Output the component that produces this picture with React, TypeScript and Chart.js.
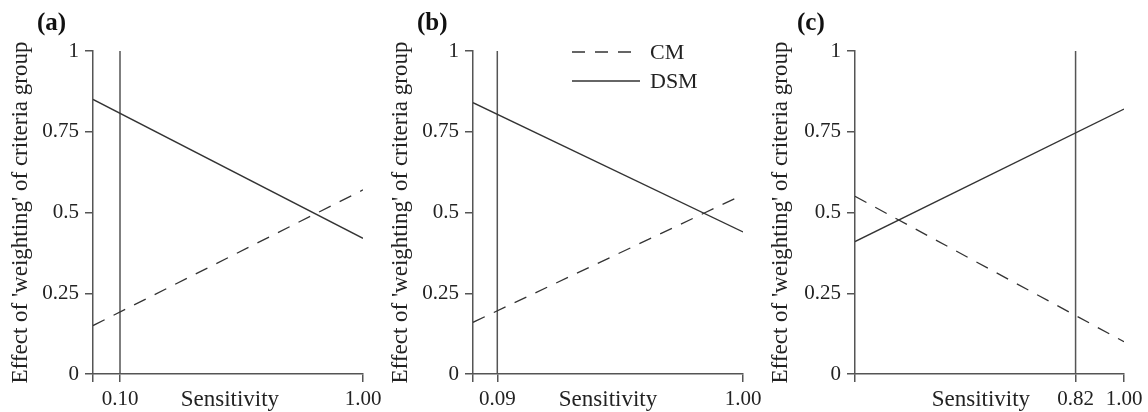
import React, { useEffect, useRef } from "react";
import { Chart, registerables } from "chart.js";

Chart.register(...registerables);

// ---- data ----
const lineX = [0, 1];
const yTickValues = [0, 0.25, 0.5, 0.75, 1];
const yTickLabels = ["0", "0.25", "0.5", "0.75", "1"];

const cmA = [0.15, 0.57];
const dsmA = [0.85, 0.42];
const thresholdA = 0.1;
const xTicksA = [0, 0.1, 1];
const xTickLabelsA = ["", "0.10", "1.00"];

const cmB = [0.16, 0.555];
const dsmB = [0.84, 0.44];
const thresholdB = 0.09;
const xTicksB = [0, 0.09, 1];
const xTickLabelsB = ["", "0.09", "1.00"];

const cmC = [0.55, 0.1];
const dsmC = [0.41, 0.82];
const thresholdC = 0.82;
const xTicksC = [0, 0.82, 1];
const xTickLabelsC = ["", "0.82", "1.00"];

const seriesNames = ["CM", "DSM"];
const panelTitles = ["(a)", "(b)", "(c)"];
const yTitle = "Effect of 'weighting' of criteria group";
const xTitle = "Sensitivity";

const SERIF = "'Liberation Serif', 'Times New Roman', serif";
const AXIS = "#555";
const INK = "#333";

type Panel = {
  left: number;
  width: number;
  cm: number[];
  dsm: number[];
  threshold: number;
  xTicks: number[];
  xTickLabels: string[];
  title: string;
  legend: boolean;
  xTitleAt: number;
  yAxisWidth: number;
  rightPad: number;
};

const panels: Panel[] = [
  { left: 0, width: 400, cm: cmA, dsm: dsmA, threshold: thresholdA, xTicks: xTicksA, xTickLabels: xTickLabelsA, title: panelTitles[0], legend: false, xTitleAt: 0.507, yAxisWidth: 93, rightPad: 37 },
  { left: 380, width: 400, cm: cmB, dsm: dsmB, threshold: thresholdB, xTicks: xTicksB, xTickLabels: xTickLabelsB, title: panelTitles[1], legend: true, xTitleAt: 0.5, yAxisWidth: 93, rightPad: 37 },
  { left: 760, width: 388, cm: cmC, dsm: dsmC, threshold: thresholdC, xTicks: xTicksC, xTickLabels: xTickLabelsC, title: panelTitles[2], legend: false, xTitleAt: 0.468, yAxisWidth: 95, rightPad: 24 },
];

function PanelChart({ p }: { p: Panel }) {
  const ref = useRef<HTMLCanvasElement | null>(null);
  useEffect(() => {
    if (!ref.current) return;
    const decor = {
      id: "decor",
      afterDraw(chart: any) {
        const ctx = chart.ctx;
        const xs = chart.scales.x;
        ctx.save();
        // panel title
        ctx.fillStyle = "#111";
        ctx.font = `bold 25px ${SERIF}`;
        ctx.textAlign = "left";
        ctx.textBaseline = "middle";
        ctx.fillText(p.title, 37, 24);
        // x title
        ctx.font = `23px ${SERIF}`;
        ctx.fillStyle = "#222";
        ctx.textAlign = "center";
        ctx.fillText(xTitle, xs.getPixelForValue(p.xTitleAt), xs.top + 8 + 5 + 12.6);
        // legend
        if (p.legend) {
          const ds = chart.data.datasets;
          const ys = [52, 81];
          [0, 1].forEach((i) => {
            const d = ds[i];
            ctx.beginPath();
            ctx.strokeStyle = d.borderColor;
            ctx.lineWidth = d.borderWidth;
            ctx.setLineDash(d.borderDash || []);
            ctx.moveTo(192, ys[i]);
            ctx.lineTo(260, ys[i]);
            ctx.stroke();
            ctx.setLineDash([]);
            ctx.font = `22px ${SERIF}`;
            ctx.fillStyle = "#222";
            ctx.textAlign = "left";
            ctx.fillText(d.label, 270, ys[i] + 1);
          });
        }
        ctx.restore();
      },
    };
    const chart = new Chart(ref.current, {
      type: "scatter",
      data: {
        datasets: [
          {
            label: seriesNames[0],
            data: lineX.map((x, i) => ({ x, y: p.cm[i] })),
            showLine: true,
            borderColor: INK,
            borderWidth: 1.3,
            borderDash: [13, 10],
            pointRadius: 0,
          },
          {
            label: seriesNames[1],
            data: lineX.map((x, i) => ({ x, y: p.dsm[i] })),
            showLine: true,
            borderColor: INK,
            borderWidth: 1.3,
            pointRadius: 0,
          },
          {
            label: "threshold",
            data: [
              { x: p.threshold, y: 0 },
              { x: p.threshold, y: 1 },
            ],
            showLine: true,
            borderColor: AXIS,
            borderWidth: 1.5,
            pointRadius: 0,
          },
        ],
      },
      options: {
        animation: false,
        responsive: false,
        layout: { padding: { left: 0, right: p.rightPad, top: 51, bottom: 0 } },
        plugins: { legend: { display: false }, tooltip: { enabled: false } },
        scales: {
          x: {
            type: "linear",
            min: 0,
            max: 1,
            afterBuildTicks: (s: any) => {
              s.ticks = p.xTicks.map((v) => ({ value: v }));
            },
            afterFit: (s: any) => {
              s.height = 38;
            },
            ticks: {
              autoSkip: false,
              maxRotation: 0,
              padding: 5,
              color: "#222",
              font: { family: SERIF, size: 21 },
              callback: (v: any) => {
                const i = p.xTicks.indexOf(Number(v));
                return i >= 0 ? p.xTickLabels[i] : "";
              },
            },
            grid: { drawOnChartArea: false, drawTicks: true, tickLength: 8, color: AXIS, lineWidth: 1.5 },
            border: { color: AXIS, width: 1.5 },
          },
          y: {
            type: "linear",
            min: 0,
            max: 1,
            afterBuildTicks: (s: any) => {
              s.ticks = yTickValues.map((v) => ({ value: v }));
            },
            afterFit: (s: any) => {
              s.width = p.yAxisWidth;
            },
            ticks: {
              padding: 6,
              color: "#222",
              font: { family: SERIF, size: 21 },
              callback: (v: any) => {
                const i = yTickValues.indexOf(Number(v));
                return i >= 0 ? yTickLabels[i] : "";
              },
            },
            grid: { drawOnChartArea: false, drawTicks: true, tickLength: 8, color: AXIS, lineWidth: 1.5 },
            border: { color: AXIS, width: 1.5 },
            title: {
              display: true,
              text: yTitle,
              color: "#222",
              font: { family: SERIF, size: 23 },
              padding: { top: 7, bottom: 0 },
            },
          },
        },
      },
      plugins: [decor],
    } as any);
    return () => chart.destroy();
  }, [p]);
  return (
    <canvas
      ref={ref}
      width={p.width}
      height={412}
      style={{ position: "absolute", left: p.left, top: 0, width: p.width, height: 412 }}
    />
  );
}

export default function App() {
  return (
    <div style={{ position: "fixed", left: 0, top: 0, width: 1148, height: 412, overflow: "hidden", background: "#fff" }}>
      {panels.map((p, i) => (
        <PanelChart key={i} p={p} />
      ))}
    </div>
  );
}
